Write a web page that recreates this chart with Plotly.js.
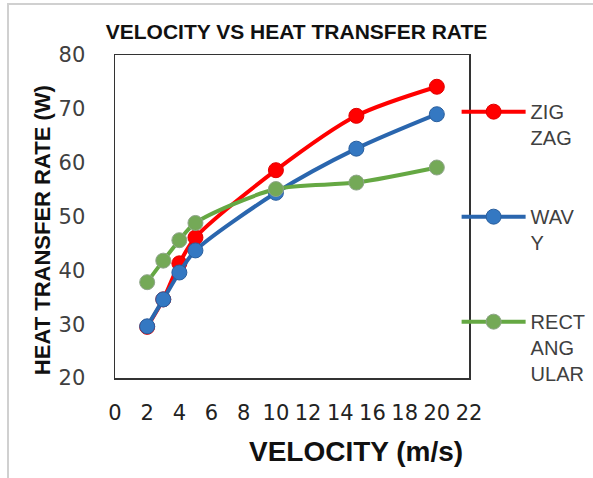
<!DOCTYPE html>
<html>
<head>
<meta charset="utf-8">
<script src="https://cdn.plot.ly/plotly-3.0.1.min.js"></script>
<style>
  html, body { margin: 0; padding: 0; background: #fff; }
  #frame { position: absolute; left: 7px; top: 3px; width: 600px; height: 480px;
           border-left: 2px solid #d0d0d0; border-top: 2px solid #d0d0d0; }
  #chart { position: absolute; left: 0; top: 0; width: 593px; height: 478px; }
</style>
</head>
<body>
<div id="frame"></div>
<div id="chart"></div>
<script>
const velocity = [2, 3, 4, 5, 10, 15, 20];
const zigzag = [29.5, 34.6, 41.3, 46.1, 58.6, 68.7, 74.1];
const wavy = [29.6, 34.6, 39.6, 43.7, 54.4, 62.6, 69.0];
const rectangular = [37.8, 41.8, 45.6, 48.8, 55.1, 56.3, 59.1];
const seriesNames = ['ZIG<br>ZAG', 'WAV<br>Y', 'RECT<br>ANG<br>ULAR'];
const xTicks = [0, 2, 4, 6, 8, 10, 12, 14, 16, 18, 20, 22];
const yTicks = [20, 30, 40, 50, 60, 70, 80];

const styles = [
  {line: '#FF0000', marker: '#FF0000', edge: '#E00000'},
  {line: '#2A66AE', marker: '#3478C2', edge: '#2A5F9E'},
  {line: '#65A843', marker: '#74A957', edge: '#8FA58A'}
];
const ys = [zigzag, wavy, rectangular];

const traces = ys.map((y, i) => ({
  x: velocity, y: y, name: seriesNames[i], type: 'scatter', mode: 'lines+markers',
  legendgroup: 'g' + i,
  line: {color: styles[i].line, width: 4, shape: 'spline', smoothing: 0.8},
  marker: {color: styles[i].marker, size: 15, line: {color: styles[i].edge, width: 1}}
}));

const layout = {
  width: 593, height: 478,
  margin: {l: 115, r: 124, t: 55, b: 100, autoexpand: false},
  paper_bgcolor: 'rgba(0,0,0,0)', plot_bgcolor: '#fff',
  showlegend: true,
  title: {text: 'VELOCITY VS HEAT TRANSFER RATE', x: 0.5, xref: 'container', xanchor: 'center',
          y: 0.933, yref: 'container', yanchor: 'middle',
          font: {family: 'Liberation Sans, Arial', size: 21, color: '#111', weight: 'bold'}},
  xaxis: {range: [0, 22], tickvals: xTicks, ticktext: xTicks.map(String), ticks: '', showgrid: false,
          zeroline: false, showline: true, mirror: true, linecolor: '#333', linewidth: 1.5,
          ticklabelstandoff: 15,
          tickfont: {family: 'DejaVu Sans', size: 21, color: '#222'}},
  yaxis: {range: [20, 80], tickvals: yTicks, ticktext: yTicks.map(String), ticks: '', showgrid: false,
          zeroline: false, showline: true, mirror: true, linecolor: '#333', linewidth: 1.5,
          ticklabelstandoff: 24,
          tickfont: {family: 'DejaVu Sans', size: 21, color: '#404040'}},
  legend: {x: 0.965, xanchor: 'left', y: 0.885, yanchor: 'top', valign: 'top',
           tracegroupgap: 50, itemwidth: 64, bgcolor: 'rgba(0,0,0,0)',
           font: {family: 'Liberation Sans, Arial', size: 20, color: '#404040'}},
  annotations: [
    {text: '<b>HEAT TRANSFER RATE (W)</b>', xref: 'paper', yref: 'paper', x: -0.206, y: 0.458,
     textangle: -90, showarrow: false, xanchor: 'center', yanchor: 'middle',
     font: {family: 'Liberation Sans, Arial', size: 22, color: '#111'}},
    {text: '<b>VELOCITY (m/s)</b>', xref: 'paper', yref: 'paper', x: 0.68, y: -0.229,
     showarrow: false, xanchor: 'center', yanchor: 'middle',
     font: {family: 'Liberation Sans, Arial', size: 28, color: '#111'}}
  ]
};

Plotly.newPlot('chart', traces, layout, {displayModeBar: false, staticPlot: true});
</script>
</body>
</html>
